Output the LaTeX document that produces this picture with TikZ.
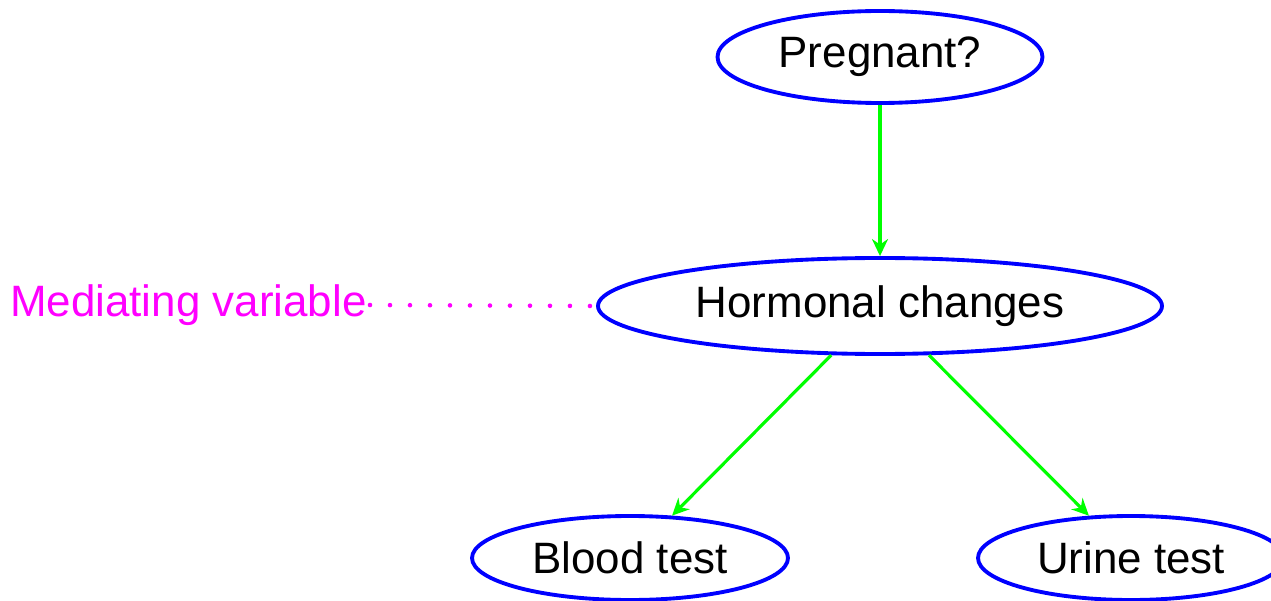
\documentclass[tikz,border=0pt]{standalone}
\usepackage{fontspec}
\setmainfont{Liberation Sans}
\usepackage{tikz}
\usetikzlibrary{arrows.meta,shapes.geometric}

\definecolor{nodeblue}{RGB}{0,0,255}
\definecolor{edgegreen}{RGB}{0,255,0}
\definecolor{notemagenta}{RGB}{255,0,255}

\tikzset{
  var/.style={ellipse,draw=nodeblue,line width=2.2pt,inner sep=0pt,
    font=\fontsize{25}{30}\selectfont},
  causal/.style={->,draw=edgegreen,line width=1.8pt},
}

\begin{document}
\begin{tikzpicture}[x=0.02cm,y=-0.02cm,>={Stealth[length=0.34cm,width=0.32cm]}]
  \useasboundingbox (0,0) rectangle (1271,601);
  \node[var,minimum width=325*0.02cm,minimum height=92*0.02cm] (pregnant) at (880,57) {Pregnant?};
  \node[var,minimum width=564*0.02cm,minimum height=96*0.02cm] (hormonal) at (880,306) {Hormonal changes};
  \node[var,minimum width=316*0.02cm,minimum height=84*0.02cm] (blood) at (630,558) {Blood test};
  \node[var,minimum width=306*0.02cm,minimum height=84*0.02cm] (urine) at (1131,558) {Urine test};
  \node[text=notemagenta,inner sep=0pt,font=\fontsize{25}{30}\selectfont,anchor=east] (mediating) at (367,305) {Mediating variable};

  \draw[causal] (pregnant) -- (hormonal);
  \draw[causal] (hormonal) -- (blood);
  \draw[causal] (hormonal) -- (urine);
  % mediator note
  \draw[notemagenta,line width=2.6pt,line cap=round,dash pattern=on 0pt off 0.4cm]
    ([xshift=0.06cm]mediating.east) -- (hormonal.west);
\end{tikzpicture}
\end{document}
